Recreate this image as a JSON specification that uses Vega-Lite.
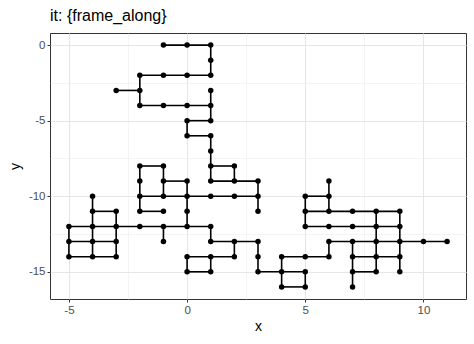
{
  "$schema": "https://vega.github.io/schema/vega-lite/v6.json",
  "width": 416,
  "height": 266,
  "autosize": {"type": "none"},
  "padding": {"left": 50, "top": 33, "right": 8, "bottom": 45},
  "title": {"text": "it: {frame_along}", "anchor": "start", "frame": "group", "font": "Liberation Sans", "fontSize": 16, "fontWeight": "normal", "color": "#000000", "offset": 9},
  "config": {
    "view": {"stroke": "#333333", "strokeWidth": 1},
    "axis": {"labelFont": "Liberation Sans", "titleFont": "Liberation Sans", "labelFontSize": 11.5, "labelColor": "#4D4D4D", "titleFontSize": 14, "titleFontWeight": "normal", "titleColor": "#000000", "tickColor": "#333333", "tickSize": 3, "domain": false, "gridColor": "#E6E6E6", "gridWidth": 1.1, "labelPadding": 2}
  },
  "datasets": {
    "segs": [
      {"xa": -1, "ya": 0, "xb": 1, "yb": 0},
      {"xa": -2, "ya": -2, "xb": 1, "yb": -2},
      {"xa": -3, "ya": -3, "xb": -2, "yb": -3},
      {"xa": -2, "ya": -4, "xb": 1, "yb": -4},
      {"xa": 0, "ya": -5, "xb": 1, "yb": -5},
      {"xa": 0, "ya": -6, "xb": 1, "yb": -6},
      {"xa": -2, "ya": -8, "xb": -1, "yb": -8},
      {"xa": 1, "ya": -8, "xb": 2, "yb": -8},
      {"xa": -1, "ya": -9, "xb": 0, "yb": -9},
      {"xa": 1, "ya": -9, "xb": 3, "yb": -9},
      {"xa": -2, "ya": -10, "xb": 3, "yb": -10},
      {"xa": 5, "ya": -10, "xb": 6, "yb": -10},
      {"xa": -4, "ya": -11, "xb": -3, "yb": -11},
      {"xa": -2, "ya": -11, "xb": -1, "yb": -11},
      {"xa": 5, "ya": -11, "xb": 9, "yb": -11},
      {"xa": -5, "ya": -12, "xb": 1, "yb": -12},
      {"xa": 5, "ya": -12, "xb": 9, "yb": -12},
      {"xa": -5, "ya": -13, "xb": -3, "yb": -13},
      {"xa": 1, "ya": -13, "xb": 3, "yb": -13},
      {"xa": 6, "ya": -13, "xb": 11, "yb": -13},
      {"xa": -5, "ya": -14, "xb": -3, "yb": -14},
      {"xa": 0, "ya": -14, "xb": 2, "yb": -14},
      {"xa": 4, "ya": -14, "xb": 6, "yb": -14},
      {"xa": 7, "ya": -14, "xb": 9, "yb": -14},
      {"xa": 0, "ya": -15, "xb": 1, "yb": -15},
      {"xa": 3, "ya": -15, "xb": 5, "yb": -15},
      {"xa": 7, "ya": -15, "xb": 8, "yb": -15},
      {"xa": 4, "ya": -16, "xb": 5, "yb": -16},
      {"xa": -5, "ya": -12, "xb": -5, "yb": -14},
      {"xa": -4, "ya": -10, "xb": -4, "yb": -14},
      {"xa": -3, "ya": -11, "xb": -3, "yb": -14},
      {"xa": -2, "ya": -2, "xb": -2, "yb": -4},
      {"xa": -2, "ya": -8, "xb": -2, "yb": -11},
      {"xa": -1, "ya": -8, "xb": -1, "yb": -10},
      {"xa": -1, "ya": -12, "xb": -1, "yb": -13},
      {"xa": 0, "ya": -5, "xb": 0, "yb": -6},
      {"xa": 0, "ya": -9, "xb": 0, "yb": -12},
      {"xa": 0, "ya": -14, "xb": 0, "yb": -15},
      {"xa": 1, "ya": 0, "xb": 1, "yb": -2},
      {"xa": 1, "ya": -3, "xb": 1, "yb": -5},
      {"xa": 1, "ya": -6, "xb": 1, "yb": -9},
      {"xa": 1, "ya": -12, "xb": 1, "yb": -13},
      {"xa": 1, "ya": -14, "xb": 1, "yb": -15},
      {"xa": 2, "ya": -8, "xb": 2, "yb": -9},
      {"xa": 2, "ya": -13, "xb": 2, "yb": -14},
      {"xa": 3, "ya": -9, "xb": 3, "yb": -11},
      {"xa": 3, "ya": -13, "xb": 3, "yb": -15},
      {"xa": 4, "ya": -14, "xb": 4, "yb": -16},
      {"xa": 5, "ya": -10, "xb": 5, "yb": -12},
      {"xa": 5, "ya": -15, "xb": 5, "yb": -16},
      {"xa": 6, "ya": -9, "xb": 6, "yb": -11},
      {"xa": 6, "ya": -13, "xb": 6, "yb": -14},
      {"xa": 7, "ya": -13, "xb": 7, "yb": -16},
      {"xa": 8, "ya": -11, "xb": 8, "yb": -15},
      {"xa": 9, "ya": -11, "xb": 9, "yb": -15}
    ],
    "pts": [
      {"x": -1, "y": 0}, {"x": 0, "y": 0}, {"x": 1, "y": 0},
      {"x": 1, "y": -1},
      {"x": -2, "y": -2}, {"x": -1, "y": -2}, {"x": 0, "y": -2}, {"x": 1, "y": -2},
      {"x": -3, "y": -3}, {"x": -2, "y": -3}, {"x": 1, "y": -3},
      {"x": -2, "y": -4}, {"x": -1, "y": -4}, {"x": 0, "y": -4}, {"x": 1, "y": -4},
      {"x": 0, "y": -5}, {"x": 1, "y": -5},
      {"x": 0, "y": -6}, {"x": 1, "y": -6},
      {"x": 1, "y": -7},
      {"x": -2, "y": -8}, {"x": -1, "y": -8}, {"x": 1, "y": -8}, {"x": 2, "y": -8},
      {"x": -2, "y": -9}, {"x": -1, "y": -9}, {"x": 0, "y": -9}, {"x": 1, "y": -9}, {"x": 2, "y": -9}, {"x": 3, "y": -9}, {"x": 6, "y": -9},
      {"x": -4, "y": -10}, {"x": -2, "y": -10}, {"x": -1, "y": -10}, {"x": 0, "y": -10}, {"x": 1, "y": -10}, {"x": 2, "y": -10}, {"x": 3, "y": -10}, {"x": 5, "y": -10}, {"x": 6, "y": -10},
      {"x": -4, "y": -11}, {"x": -3, "y": -11}, {"x": -2, "y": -11}, {"x": -1, "y": -11}, {"x": 0, "y": -11}, {"x": 3, "y": -11}, {"x": 5, "y": -11}, {"x": 6, "y": -11}, {"x": 7, "y": -11}, {"x": 8, "y": -11}, {"x": 9, "y": -11},
      {"x": -5, "y": -12}, {"x": -4, "y": -12}, {"x": -3, "y": -12}, {"x": -2, "y": -12}, {"x": -1, "y": -12}, {"x": 0, "y": -12}, {"x": 1, "y": -12}, {"x": 5, "y": -12}, {"x": 6, "y": -12}, {"x": 7, "y": -12}, {"x": 8, "y": -12}, {"x": 9, "y": -12},
      {"x": -5, "y": -13}, {"x": -4, "y": -13}, {"x": -3, "y": -13}, {"x": -1, "y": -13}, {"x": 1, "y": -13}, {"x": 2, "y": -13}, {"x": 3, "y": -13}, {"x": 6, "y": -13}, {"x": 7, "y": -13}, {"x": 8, "y": -13}, {"x": 9, "y": -13}, {"x": 10, "y": -13}, {"x": 11, "y": -13},
      {"x": -5, "y": -14}, {"x": -4, "y": -14}, {"x": -3, "y": -14}, {"x": 0, "y": -14}, {"x": 1, "y": -14}, {"x": 2, "y": -14}, {"x": 3, "y": -14}, {"x": 4, "y": -14}, {"x": 5, "y": -14}, {"x": 6, "y": -14}, {"x": 7, "y": -14}, {"x": 8, "y": -14}, {"x": 9, "y": -14},
      {"x": 0, "y": -15}, {"x": 1, "y": -15}, {"x": 3, "y": -15}, {"x": 4, "y": -15}, {"x": 5, "y": -15}, {"x": 7, "y": -15}, {"x": 8, "y": -15}, {"x": 9, "y": -15},
      {"x": 4, "y": -16}, {"x": 5, "y": -16}, {"x": 7, "y": -16}
    ]
  },
  "layer": [
    {
      "data": {"name": "pts"},
      "mark": {"type": "point", "opacity": 0, "size": 1},
      "encoding": {
        "x": {"field": "x", "type": "quantitative", "scale": {"domain": [-5.8, 11.8], "nice": false, "zero": false},
          "axis": {"orient": "top", "grid": true, "values": [-2.5, 2.5, 7.5], "labels": false, "ticks": false, "title": null, "gridWidth": 0.55, "gridColor": "#EBEBEB"}},
        "y": {"field": "y", "type": "quantitative", "scale": {"domain": [-16.8, 0.8], "nice": false, "zero": false},
          "axis": {"orient": "right", "grid": true, "values": [-2.5, -7.5, -12.5], "labels": false, "ticks": false, "title": null, "gridWidth": 0.55, "gridColor": "#EBEBEB"}}
      }
    },
    {
      "layer": [
        {
          "data": {"name": "segs"},
          "mark": {"type": "rule", "color": "#000000", "strokeWidth": 1.6},
          "encoding": {
            "x": {"field": "xa", "type": "quantitative", "scale": {"domain": [-5.8, 11.8], "nice": false, "zero": false},
              "axis": {"orient": "bottom", "grid": true, "values": [-5, 0, 5, 10], "title": "x", "labelExpr": "datum.value", "labelColor": "#4D4D4D", "titleColor": "#000000", "titlePadding": 4}},
            "y": {"field": "ya", "type": "quantitative", "scale": {"domain": [-16.8, 0.8], "nice": false, "zero": false},
              "axis": {"orient": "left", "grid": true, "values": [0, -5, -10, -15], "title": "y", "labelExpr": "datum.value", "labelColor": "#4D4D4D", "titleColor": "#000000", "titlePadding": 6}},
            "x2": {"field": "xb"},
            "y2": {"field": "yb"}
          }
        },
        {
          "data": {"name": "pts"},
          "mark": {"type": "circle", "color": "#000000", "opacity": 1, "size": 30},
          "encoding": {
            "x": {"field": "x", "type": "quantitative"},
            "y": {"field": "y", "type": "quantitative"}
          }
        }
      ]
    }
  ],
  "resolve": {"axis": {"x": "independent", "y": "independent"}}
}
